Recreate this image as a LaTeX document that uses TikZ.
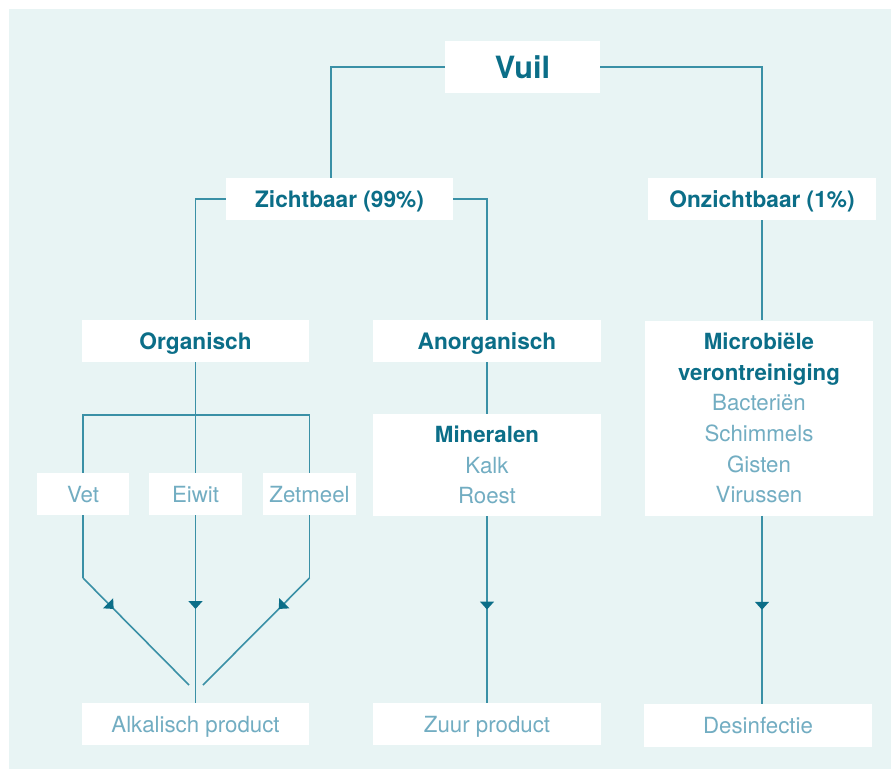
\documentclass[tikz,border=0pt]{standalone}
\usepackage{fontspec}
\setmainfont{TeX Gyre Heros}
\usetikzlibrary{arrows.meta,decorations.markings}
\definecolor{bg}{HTML}{E8F4F4}
\definecolor{ln}{HTML}{3A90A6}
\definecolor{dk}{HTML}{0B6E88}
\definecolor{lt}{HTML}{72ADC2}
\tikzset{
  bx/.style 2 args={fill=white,minimum width=#1*0.75pt,minimum height=#2*0.75pt,inner sep=0pt,align=center},
  hd/.style={font=\bfseries\fontsize{17}{23}\selectfont,text=dk,text height=12.2pt,text depth=0pt},
  lg/.style={font=\fontsize{16.7}{23}\selectfont,text=lt},
  lg1/.style={lg,text height=12pt,text depth=0pt},
  conn/.style={draw=ln,line width=1.2pt},
  midarrow/.style={postaction={decorate},decoration={markings,mark=at position #1 with {\arrow[dk]{Triangle[width=10.5pt,length=6pt]}}}}
}
\begin{document}
\begin{tikzpicture}[x=0.75pt,y=-0.75pt]
\useasboundingbox (0,0) rectangle (891,769);
\fill[bg] (9,9) rectangle (891,769);

% helper coordinates
\coordinate (zl) at (331,0);
\coordinate (hb) at (0,415);
\coordinate (kn) at (0,578);
\coordinate (aL) at (189,685);
\coordinate (aR) at (203,685);

% nodes
\node[bx={155}{52},font=\bfseries\fontsize{23}{28}\selectfont,text=dk,text height=16.5pt,text depth=0pt] (vuil) at (522.5,67) {Vuil};
\node[bx={227}{42},hd] (zicht) at (339.5,199) {Zichtbaar (99\%)};
\node[bx={228}{42},hd] (onz) at (762,199) {Onzichtbaar (1\%)};
\node[bx={227}{42},hd] (org) at (195.5,341) {Organisch};
\node[bx={228}{42},hd] (anorg) at (487,341) {Anorganisch};
\node[bx={228}{195},lg] (micro) at (759,418) {{\bfseries\color{dk}Microbiële}\\{\bfseries\color{dk}verontreiniging}\\Bacteriën\\Schimmels\\Gisten\\Virussen};
\node[bx={228}{102},lg] (mineral) at (487,465) {{\bfseries\color{dk}Mineralen}\\Kalk\\Roest};
\node[bx={92}{42},lg1] (vet) at (83,494) {Vet};
\node[bx={93}{42},lg1] (eiwit) at (195.5,494) {Eiwit};
\node[bx={93}{42},lg1] (zet) at (309.5,494) {Zetmeel};
\node[bx={227}{42},lg1] (alk) at (195.5,724) {Alkalisch product};
\node[bx={228}{42},lg1] (zuur) at (487,724) {Zuur product};
\node[bx={228}{43},lg1] (desinf) at (758,725.5) {Desinfectie};

% connectors
\draw[conn] (vuil.west) -| (zicht.north -| zl);
\draw[conn] (vuil.east) -| (onz.north);
\draw[conn] (zicht.west) -| (org.north);
\draw[conn] (zicht.east) -| (anorg.north);
\draw[conn] (onz.south) -- (micro.north -| onz);
\draw[conn] (org.south) -- (eiwit.north);
\draw[conn] (vet.north) |- (hb -| zet) -- (zet.north);
\draw[conn] (anorg.south) -- (mineral.north);

\draw[conn] (vet.south) -- (vet.south |- kn);
\draw[conn,midarrow=0.29] (vet.south |- kn) -- (aL);
\draw[conn] (zet.south) -- (zet.south |- kn);
\draw[conn,midarrow=0.29] (zet.south |- kn) -- (aR);
\draw[conn,midarrow=0.5] (eiwit.south) -- (alk.north);
\draw[conn,midarrow=0.5] (mineral.south) -- (zuur.north);
\draw[conn,midarrow=0.5] (micro.south -| onz) -- (desinf.north -| onz);
\end{tikzpicture}
\end{document}
